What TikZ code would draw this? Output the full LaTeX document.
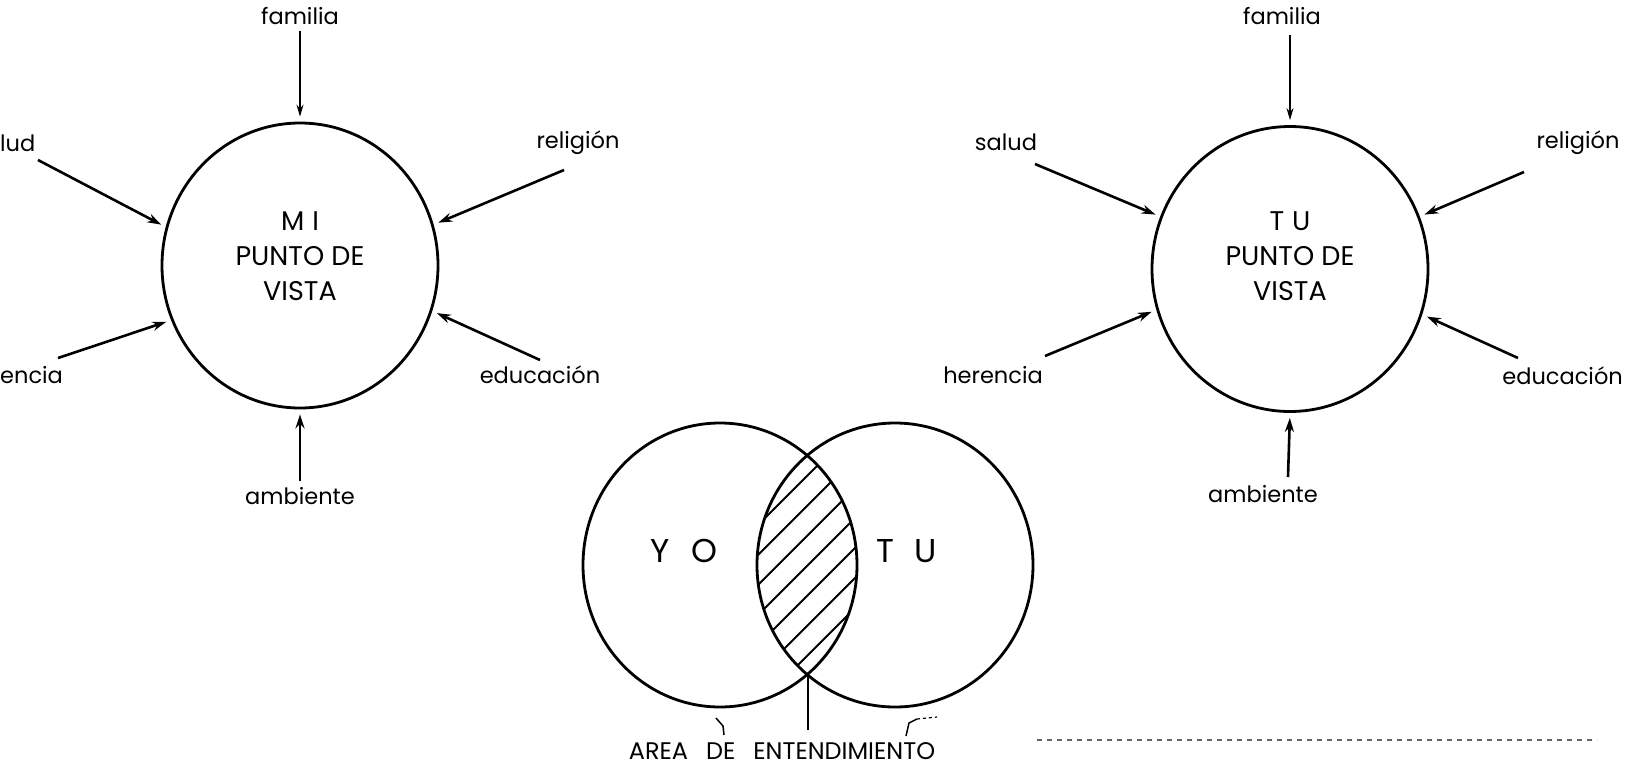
\documentclass[tikz,border=0pt]{standalone}
\usepackage{fontspec}
\setmainfont{Poppins}
\usetikzlibrary{arrows.meta,shapes.geometric}
\begin{document}
\begin{tikzpicture}[x=1pt,y=-1pt,
  lbl/.style={inner sep=0pt,font=\fontsize{22.5}{27}\selectfont},
  ctr/.style={inner sep=0pt,align=center,font=\fontsize{27}{35}\selectfont},
  ring/.style={draw,ellipse,line width=2.8pt,minimum width=276pt,minimum height=285pt,inner sep=0pt},
  inarrow/.style={line width=2.6pt,-{Stealth[length=14pt,width=9pt]},shorten >=5pt},
  thinarrow/.style={line width=1.5pt,-{Stealth[length=12pt,width=7pt]},shorten >=5pt,shorten <=6pt},
  venn/.style={line width=2.8pt},
  hatch/.style={line width=2pt},
  tick/.style={line width=1.5pt},
  big/.style={inner sep=0pt,font=\fontsize{33}{36}\selectfont}]
\useasboundingbox (0,0) rectangle (1626,772);

% ---------- left: MI punto de vista
\node[ring] (L) at (300,265.5) {};
\node[ctr] (Ltxt) at (300,256) {M\hspace{8pt}I\\PUNTO DE\\VISTA};
\node[lbl] (Lfam) at (300,16) {familia};
\draw[thinarrow] (Lfam) -- (L.90);
\node[lbl,anchor=west] (Lsal) at (0,143) {lud};
\coordinate (Lsalt) at (38,160);
\draw[inarrow] (Lsalt) -- (L.164);
\node[lbl,anchor=west] (Lher) at (0,375) {encia};
\coordinate (Lhert) at (58,358);
\draw[inarrow] (Lhert) -- (L.203);
\node[lbl] (Lrel) at (578,143) {religión};
\coordinate (Lrelt) at (564,170);
\draw[inarrow] (Lrelt) -- (L.17);
\node[lbl] (Ledu) at (540,375) {educación};
\coordinate (Ledut) at (540,360);
\draw[inarrow] (Ledut) -- (L.341);
\node[lbl] (Lamb) at (300,496) {ambiente};
\draw[inarrow,shorten <=6pt] (Lamb) -- (L.270);

% ---------- right: TU punto de vista
\node[ring] (R) at (1290,269) {};
\node[ctr] (Rtxt) at (1290,256) {T\hspace{8pt}U\\PUNTO DE\\VISTA};
\node[lbl] (Rfam) at (1282,16) {familia};
\coordinate (Rfamt) at (1290,35);
\draw[thinarrow,line width=1.2pt,shorten <=0pt] (Rfamt) -- (R.90);
\node[lbl] (Rsal) at (1006,142) {salud};
\coordinate (Rsalt) at (1035,164);
\draw[inarrow] (Rsalt) -- (R.158.5);
\node[lbl] (Rher) at (993,375) {herencia};
\coordinate (Rhert) at (1045,356);
\draw[inarrow] (Rhert) -- (R.197);
\node[lbl] (Rrel) at (1578,143) {religión};
\coordinate (Rrelt) at (1524,172);
\draw[inarrow] (Rrelt) -- (R.22);
\node[lbl,anchor=east] (Redu) at (1623,376) {educación};
\coordinate (Redut) at (1518,358);
\draw[inarrow] (Redut) -- (R.341);
\node[lbl] (Ramb) at (1263,494) {ambiente};
\coordinate (Rambt) at (1288,477);
\draw[inarrow] (Rambt) -- (R.270);

% ---------- Venn: area de entendimiento
\draw[venn] (720,565) ellipse [x radius=137pt, y radius=142pt];
\draw[venn] (895,565) ellipse [x radius=138pt, y radius=142pt];
\begin{scope}
  \clip (720,565) ellipse [x radius=137pt, y radius=142pt];
  \clip (895,565) ellipse [x radius=138pt, y radius=142pt];
  \foreach \c in {1283,1313,...,1463}
    \draw[hatch] (700,{\c-700}) -- (900,{\c-900});
\end{scope}
\node[big] (yo) at (684,551) {Y\hspace{22pt}O};
\node[big] (tu) at (907,551) {T\hspace{20pt}U};
\node[inner sep=0pt,font=\fontsize{24}{28}\selectfont] (area) at (782,751) {AREA\hspace{18pt}DE\hspace{18pt}ENTENDIMIENTO};
\coordinate (lensb) at (808,676);
\coordinate (lensl) at (808,730);
\draw[tick] (lensb) -- (lensl);
\draw[tick] (716,718) -- (723,726) -- (724,735);
\draw[tick] (906,736) -- (909,723) -- (917,719);
\draw[line width=1.2pt,dashed] (917,719) -- (937,717);
\draw[line width=1.2pt,dash pattern=on 5pt off 5pt,black!60] (1037,740) -- (1597,740);
\end{tikzpicture}
\end{document}
